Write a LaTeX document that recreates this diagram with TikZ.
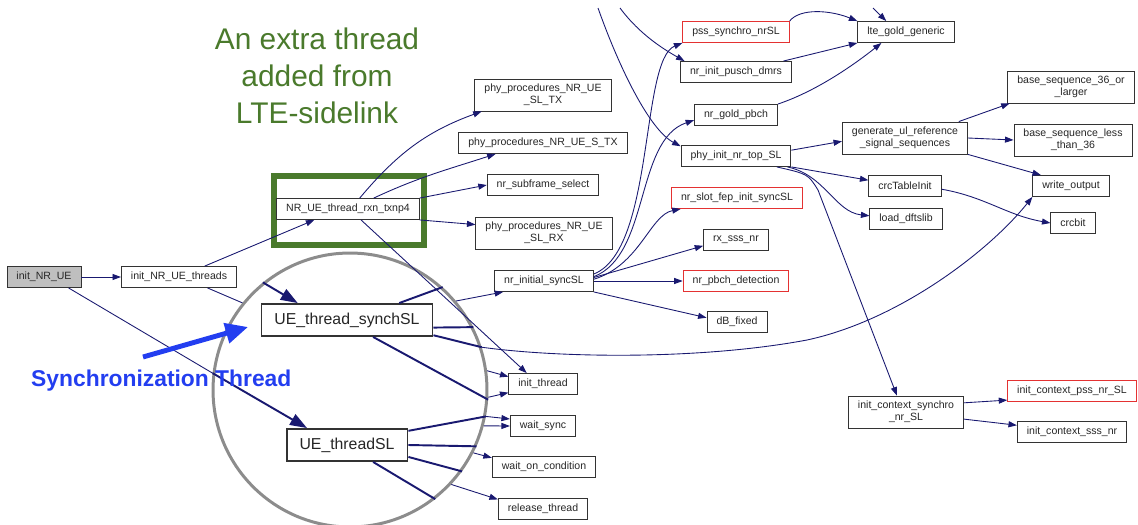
\documentclass[tikz,border=0pt]{standalone}
\usepackage{fontspec}
\setmainfont{Liberation Sans}
\usetikzlibrary{arrows.meta}
\definecolor{edgeblue}{RGB}{25,25,112}
\definecolor{slidegreen}{RGB}{74,122,44}
\definecolor{slideblue}{RGB}{35,62,240}
\definecolor{boxred}{RGB}{228,50,50}

\begin{document}
\begin{tikzpicture}[x=0.02cm, y=0.02cm,
        fn/.style={draw=black!80, fill=white, line width=0.5pt, minimum height=0.42cm, inner xsep=0.19cm, inner ysep=1pt, font=\fontsize{6}{7}\selectfont, text=black!85},
        fn2/.style={fn, align=center, minimum height=0.64cm},
        redfn/.style={fn, draw=boxred},
        rootfn/.style={fn, fill=black!25},
        bigfn/.style={fn, line width=1.1pt, minimum height=0.64cm, inner xsep=0.26cm, font=\fontsize{9}{10}\selectfont},
        big/.style={line width=1.1pt, >={Triangle[length=0.34cm,width=0.24cm]}},
        >={Triangle[length=0.17cm,width=0.12cm]}
    ]
        \useasboundingbox (0,0) rectangle (1138,-524);

        % magnifier and highlight
        \node[draw=slidegreen, line width=3.4pt, minimum width=3cm, minimum height=1.38cm, inner sep=0] (gbox) at (349,-210.5) {};
        \node[circle, draw=black!45, line width=1.7pt, minimum size=5.48cm, inner sep=0] (lens) at (350,-390) {};

        % call graph
        \node[rootfn] (init) at (44,-277) {init\_NR\_UE};
        \node[fn] (thr) at (179,-277) {init\_NR\_UE\_threads};
        \node[fn] (rxn) at (348,-209) {NR\_UE\_thread\_rxn\_txnp4};
        \node[bigfn] (synch) at (347,-320) {UE\_thread\_synchSL};
        \node[bigfn] (uethr) at (347,-445) {UE\_threadSL};

        \node[fn2] (txsl) at (543,-95) {phy\_procedures\_NR\_UE\\\_SL\_TX};
        \node[fn] (stx) at (543,-143) {phy\_procedures\_NR\_UE\_S\_TX};
        \node[fn] (sfsel) at (543,-185) {nr\_subframe\_select};
        \node[fn2] (rxsl) at (544,-233) {phy\_procedures\_NR\_UE\\\_SL\_RX};
        \node[fn] (isync) at (544,-281) {nr\_initial\_syncSL};
        \node[fn] (ith) at (543,-384) {init\_thread};
        \node[fn] (wsync) at (543,-426) {wait\_sync};
        \node[fn] (wcond) at (544,-467) {wait\_on\_condition};
        \node[fn] (rel) at (543,-509) {release\_thread};

        \node[redfn] (pss) at (736,-32) {pss\_synchro\_nrSL};
        \node[fn] (pusch) at (736,-72) {nr\_init\_pusch\_dmrs};
        \node[fn] (gold) at (736,-115) {nr\_gold\_pbch};
        \node[fn] (top) at (736,-156) {phy\_init\_nr\_top\_SL};
        \node[redfn] (fep) at (737,-198) {nr\_slot\_fep\_init\_syncSL};
        \node[fn] (sss) at (736,-240) {rx\_sss\_nr};
        \node[redfn] (pbch) at (736,-281) {nr\_pbch\_detection};
        \node[fn] (dbf) at (737,-322) {dB\_fixed};

        \node[fn] (lte) at (906,-32) {lte\_gold\_generic};
        \node[fn2] (gen) at (905,-138) {generate\_ul\_reference\\\_signal\_sequences};
        \node[fn] (crci) at (905,-186) {crcTableInit};
        \node[fn] (dft) at (906,-219) {load\_dftslib};
        \node[fn2] (ctxs) at (906,-412) {init\_context\_synchro\\\_nr\_SL};

        \node[fn2] (bs36) at (1071,-87) {base\_sequence\_36\_or\\\_larger};
        \node[fn2] (bsl) at (1073,-140) {base\_sequence\_less\\\_than\_36};
        \node[fn] (wout) at (1071,-186) {write\_output};
        \node[fn] (crcb) at (1073,-223) {crcbit};
        \node[redfn] (ctxp) at (1072,-391) {init\_context\_pss\_nr\_SL};
        \node[fn] (ctxsss) at (1072,-432) {init\_context\_sss\_nr};

        \coordinate (ext1) at (598,-8);
        \coordinate (ext2) at (620,-8);
        \coordinate (ext3) at (873,-8);

        \begin{scope}[edgeblue, line width=0.5pt]
            \draw[->] (init) -- (thr);
            \draw (init.-24) -- (lens.173);
            \draw[big, ->] (lens.173) -- (uethr.157);
            \draw[->] (thr.23) -- (rxn.198);
            \draw (thr.-21) -- (lens.141);
            \draw[big, ->] (lens.129) -- (synch.161);

            \draw[->] (rxn.43) to[out=50, in=200] (txsl.195);
            \draw[->] (rxn.23) to[out=25, in=198] (stx.193);
            \draw[->] (rxn.north east) -- (sfsel.west);
            \draw[->] (rxn.south east) -- (rxsl.173);
            \draw[->] (rxn.-40) -- (ith.146);

            % inside the lens
            \draw[big] (synch.18) -- (lens.48);
            \draw[big] (synch.-5) -- (lens.27);
            \draw[big] (synch.-10) -- (lens.18);
            \draw[big] (synch.-33) -- (lens.-4);
            \draw[big] (uethr.13) -- (lens.-11);
            \draw[big] (uethr.0) -- (lens.-24);
            \draw[big] (uethr.-11) -- (lens.-36);
            \draw[big] (uethr.-33) -- (lens.-52);

            \draw[->] (lens.40) -- (isync.195);
            \draw[->] (lens.8) -- (ith.168);
            \draw[->] (lens.-3) -- (ith.194);
            \draw[->] (lens.-11) -- (wsync.168);
            \draw[->] (lens.-15) -- (wsync.west);
            \draw[->] (lens.-27) -- (wcond.170);
            \draw[->] (lens.-43) -- (rel.168);
            \draw[->] (lens.18) .. controls (560,-358) and (700,-360) .. (807,-340)
                .. controls (900,-320) and (990,-250) .. (wout.south west);

            \draw[->] (isync.8) .. controls (655,-250) and (640,-60) .. (pss.south west);
            \draw[->] (isync.5) .. controls (650,-255) and (635,-140) .. (gold.187);
            \draw[->] (isync.2) .. controls (640,-265) and (650,-215) .. (fep.191);
            \draw[->] (isync.4) -- (sss.190);
            \draw[->] (isync) -- (pbch);
            \draw[->] (isync.south east) -- (dbf.172);

            \draw[->] (ext1) .. controls (620,-70) and (650,-130) .. (top.170);
            \draw[->] (ext2) .. controls (640,-35) and (665,-50) .. (pusch.168);
            \draw[->] (ext3) -- (lte.151);
            \draw[->] (pss.north east) .. controls (800,-8) and (830,-10) .. (lte.north west);
            \draw[->] (pusch.13) -- (lte.south west);
            \draw[->] (gold.north east) .. controls (820,-90) and (860,-60) .. (lte.204);

            \draw[->] (top.6) -- (gen.183);
            \draw[->] (top.south east) -- (crci.171);
            \draw[->] (top.-12) .. controls (825,-175) and (835,-212) .. (dft.175);
            \draw[->] (top.-15) .. controls (808,-174) .. (818,-190) -- (ctxs.119);

            \draw[->] (gen.17) -- (bs36.195);
            \draw[->] (gen.east) -- (bsl.west);
            \draw[->] (gen.south east) -- (wout.160);
            \draw[->] (crci.-5) to[out=-10, in=170] (crcb.west);
            \draw[->] (ctxs.9) -- (ctxp.188);
            \draw[->] (ctxs.-7) -- (ctxsss.173);
        \end{scope}

        % slide annotations
        \node[text=slidegreen, font=\fontsize{17}{21}\selectfont, align=center] (note) at (317,-76) {An extra thread\\added from\\LTE-sidelink};
        \node[text=slideblue, font=\bfseries\fontsize{13}{15}\selectfont, anchor=west] (synclabel) at (25,-381) {Synchronization Thread};
        \coordinate (tail) at (143,-357);
        \coordinate (tip) at (248,-327);
        \draw[slideblue, line width=2.8pt, -{Triangle[length=0.45cm,width=0.4cm]}] (tail) -- (tip);
    \end{tikzpicture}
\end{document}
